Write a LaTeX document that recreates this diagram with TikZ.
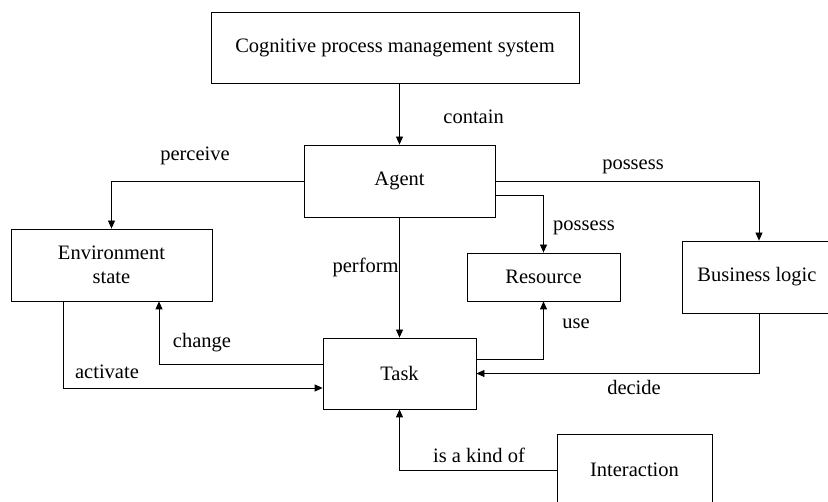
\documentclass[tikz,border=0pt]{standalone}
\usepackage{fontspec}
\setmainfont{Liberation Serif}
\usepackage{tikz}
\usetikzlibrary{arrows.meta}
\tikzset{>=Latex}
\tikzstyle{arw}=[-{Triangle[length=8pt,width=7pt]}]
\tikzstyle{box}=[draw, line width=0.8pt, align=center, inner sep=0pt]
\tikzstyle{lbl}=[inner sep=0pt]

\begin{document}
\begin{tikzpicture}[x=1pt,y=-1pt,line width=0.8pt,font=\fontsize{20.5}{24}\selectfont]
    \useasboundingbox (0,0) rectangle (828,502);
    \node[box, minimum width=368, minimum height=71] (sys) at (395,47.5) {Cognitive process management system};
    \node[box, minimum width=191, minimum height=72] (agent) at (399.5,181) {Agent};
    \node[box, minimum width=201, minimum height=72] (env) at (111.5,265) {Environment\\state};
    \node[box, minimum width=153, minimum height=48] (res) at (543.5,277) {Resource};
    \node[box, minimum width=150, minimum height=72] (biz) at (757,277) {Business logic};
    \node[box, minimum width=153, minimum height=71] (task) at (399.5,373.5) {Task};
    \node[box, minimum width=155, minimum height=72] (inter) at (634.5,470) {Interaction};

    \draw[arw] (sys.south -| agent.north) -- (agent.north);
    \node[lbl, anchor=west] (contain) at (443,117) {contain};
    % agent to the others
    \draw[arw] (agent.west) -| (env.north);
    \node[lbl] (perceive) at (195,156) {perceive};
    \draw[arw] (agent.east) -| ([xshift=2pt]biz.north);
    \node[lbl] (possessA) at (633,167) {possess};
    \draw[arw] ([yshift=-14pt]agent.east) -| (res.north);
    \node[lbl] (possessB) at (584,228) {possess};
    \draw[arw] (agent.south) -- (task.north);
    \node[lbl, anchor=east] (perform) at (399,267) {perform};
    % task links
    \draw[arw] ([yshift=9.5pt]task.west) -| ([xshift=47.5pt]env.south);
    \node[lbl] (change) at (202,343) {change};
    \draw[arw] ([xshift=-48.5pt]env.south) |- ([yshift=-14.5pt]task.west);
    \node[lbl] (activate) at (107,372) {activate};
    \draw[arw] ([yshift=14.5pt]task.east) -| (res.south);
    \node[lbl] (use) at (576,324) {use};
    \draw[arw] ([xshift=2pt]biz.south) |- (task.east);
    \node[lbl] (decide) at (634,387) {decide};
    \draw[arw] (inter.west) -| (task.south);
    \node[lbl] (kind) at (479,455) {is a kind of};
\end{tikzpicture}
\end{document}
